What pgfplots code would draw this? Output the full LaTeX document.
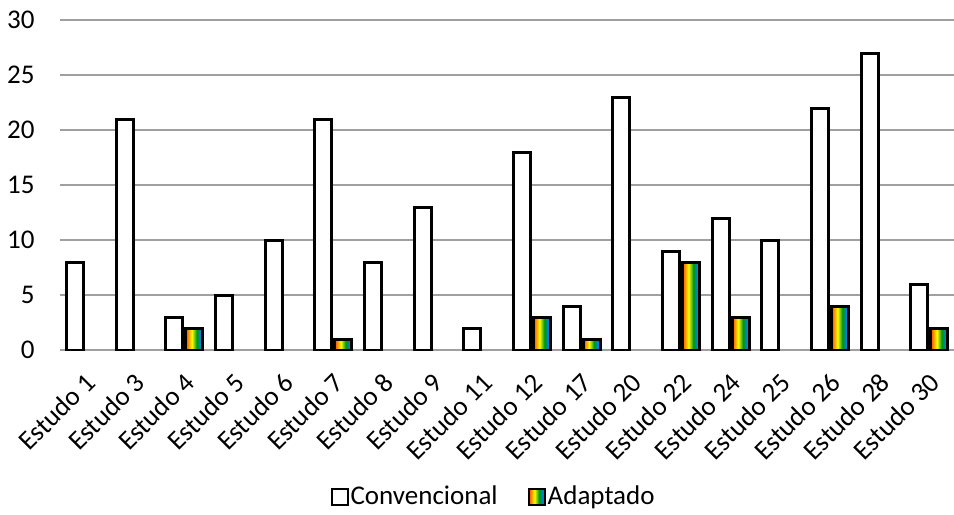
\documentclass[border=0pt]{standalone}
\usepackage{pgfplots}
\pgfplotsset{compat=1.18}
\usepackage{fontspec}
\setmainfont{Carlito}
\pgfdeclarehorizontalshading{rainbow}{100bp}{
  color(0bp)=(red);
  color(18bp)=(red);
  color(31bp)=(orange);
  color(43bp)=(yellow);
  color(57bp)=(green!60!black);
  color(70bp)=(cyan!50!blue);
  color(82bp)=(blue);
  color(100bp)=(blue!55!black)}
\definecolor{gridgray}{RGB}{160,160,160}
\begin{document}
\fontsize{13.5bp}{16bp}\selectfont
\begin{tikzpicture}
\useasboundingbox (-30bp,-82.5bp) rectangle (447bp,175bp);
\begin{axis}[
  at={(0,0)}, anchor=south west,
  width=447bp, height=165bp, scale only axis,
  xmin=-0.5, xmax=17.5, ymin=0, ymax=30,
  ytick={0,5,...,30},
  xtick={0,...,17},
  xticklabels={Estudo 1,Estudo 3,Estudo 4,Estudo 5,Estudo 6,Estudo 7,Estudo 8,Estudo 9,Estudo 11,Estudo 12,Estudo 17,Estudo 20,Estudo 22,Estudo 24,Estudo 25,Estudo 26,Estudo 28,Estudo 30},
  x tick label style={rotate=45, anchor=east, inner sep=0bp, xshift=-7.8bp, yshift=-11.8bp, font=\fontsize{13.5bp}{16bp}\selectfont},
  y tick label style={font=\fontsize{13.5bp}{16bp}\selectfont},
  yticklabel style={xshift=-8bp},
  /pgf/number format/assume math mode=true,
  axis line style={draw=none},
  major tick length=0pt,
  ymajorgrids, grid style={gridgray, line width=0.8bp},
  conv/.style={ybar, bar width=8.5bp, bar shift=-5bp, draw=black, fill=white, line width=1.5bp},
  adapt/.style={ybar, bar width=8.5bp, bar shift=5bp, draw=black, shading=rainbow, line width=1.5bp},
  legend style={at={(0.485,-0.445)}, anchor=center, draw=none, legend columns=2,
    font=\fontsize{13.5bp}{16bp}\selectfont, nodes={inner sep=1bp},
    /tikz/every even column/.append style={column sep=14bp}},
  legend image code/.code={\draw[#1, line width=1bp] (0bp,-4bp) rectangle (8bp,4bp);},
]
\addplot[conv] coordinates {
(0,8) (1,21) (2,3) (3,5) (4,10) (5,21) (6,8) (7,13) (8,2) (9,18) (10,4) (11,23) (12,9) (13,12) (14,10) (15,22) (16,27) (17,6)};
\addplot[adapt] coordinates {(2,2)};
\addplot[adapt, forget plot] coordinates {(5,1)};
\addplot[adapt, forget plot] coordinates {(9,3)};
\addplot[adapt, forget plot] coordinates {(10,1)};
\addplot[adapt, forget plot] coordinates {(12,8)};
\addplot[adapt, forget plot] coordinates {(13,3)};
\addplot[adapt, forget plot] coordinates {(15,4)};
\addplot[adapt, forget plot] coordinates {(17,2)};
\legend{Convencional,Adaptado}
\end{axis}
\end{tikzpicture}
\end{document}
